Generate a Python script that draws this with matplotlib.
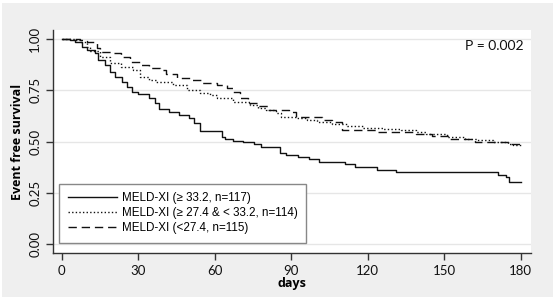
import matplotlib
matplotlib.use("Agg")
import matplotlib.pyplot as plt
from matplotlib.patches import Rectangle

# Kaplan-Meier steps (day, survival)
high_days = [0, 3, 5, 8, 10, 13, 14, 17, 19, 21, 23.5, 25.5, 27.5, 30, 34, 36.5, 38, 42, 46,
             50, 52, 54, 62.7, 64, 67, 71, 75.5, 78, 85.5, 88, 92.5, 97, 101, 111, 115, 123.5,
             131, 171, 174, 175.5, 180]
high_surv = [1.0, 0.995, 0.985, 0.96, 0.946, 0.93, 0.90, 0.873, 0.84, 0.815, 0.79, 0.766, 0.74,
             0.73, 0.71, 0.69, 0.66, 0.644, 0.63, 0.615, 0.59, 0.55, 0.52, 0.51, 0.502, 0.498,
             0.488, 0.474, 0.444, 0.434, 0.424, 0.415, 0.40, 0.39, 0.376, 0.36, 0.352, 0.338,
             0.325, 0.303, 0.303]

mid_days = [0, 5, 7, 10, 11, 15, 19, 23, 28, 30.6, 34, 37, 43.5, 49, 54, 58, 61, 67, 73.7, 77,
            80, 84, 86, 92, 96, 100, 106, 112, 118, 126, 133, 139, 143, 151, 158, 163, 169, 175,
            177, 180]
mid_surv = [1.0, 0.995, 0.985, 0.96, 0.94, 0.912, 0.883, 0.865, 0.85, 0.815, 0.80, 0.79, 0.776,
            0.75, 0.737, 0.725, 0.712, 0.693, 0.678, 0.665, 0.654, 0.64, 0.62, 0.615, 0.607,
            0.595, 0.585, 0.575, 0.566, 0.562, 0.555, 0.546, 0.535, 0.522, 0.51, 0.505, 0.498,
            0.49, 0.483, 0.483]

low_days = [0, 7, 10, 13.7, 15, 20, 23, 26.7, 30.6, 34, 38.4, 41, 45, 51, 55, 61, 64.7, 67, 70,
            73, 77, 81, 89, 92, 102, 106, 110, 123.5, 139, 145, 152, 162, 175, 180]
low_surv = [1.0, 0.995, 0.985, 0.956, 0.937, 0.93, 0.91, 0.89, 0.873, 0.86, 0.85, 0.83, 0.81,
            0.80, 0.785, 0.776, 0.76, 0.74, 0.712, 0.69, 0.675, 0.654, 0.645, 0.62, 0.605,
            0.595, 0.556, 0.546, 0.535, 0.525, 0.512, 0.50, 0.49, 0.485]

labels = ["MELD-XI (\u2265 33.2, n=117)",
          "MELD-XI (\u2265 27.4 & < 33.2, n=114)",
          "MELD-XI (<27.4, n=115)"]
x_ticks = [0, 30, 60, 90, 120, 150, 180]
y_ticks = [0.0, 0.25, 0.5, 0.75, 1.0]
y_ticklabels = ["0.00", "0.25", "0.50", "0.75", "1.00"]

fig = plt.figure(figsize=(5.6, 3.0), dpi=100, facecolor="white")
fig.patches.append(Rectangle((2 / 560, 3 / 300), 551 / 560, 294 / 300, transform=fig.transFigure,
                             facecolor="#efefef", edgecolor="none", zorder=-10))

ax = fig.add_axes([53 / 560, 47 / 300, 478 / 560, 223 / 300])
ax.set_facecolor("white")

ink = "#111111"
ax.step(high_days, high_surv, where="post", color=ink, lw=1.0, ls="-", label=labels[0])
ax.step(mid_days, mid_surv, where="post", color=ink, lw=1.0, ls=(0, (1, 1.6)), label=labels[1])
ax.step(low_days, low_surv, where="post", color=ink, lw=1.0, ls=(0, (6, 3.5)), label=labels[2])

ax.set_xlim(-3.5, 184)
ax.set_ylim(-0.044, 1.044)
ax.set_xticks(x_ticks)
ax.set_yticks(y_ticks)
ax.set_yticklabels(y_ticklabels, rotation=90, va="center")
ax.tick_params(axis="both", direction="out", length=5, width=1, color="#333333",
               labelsize=9.5, labelcolor="#111111")
for lab in ax.get_xticklabels() + ax.get_yticklabels():
    lab.set_family("Lato")
ax.grid(axis="y", color="#e6e6e6", lw=1)
ax.set_axisbelow(True)
for side in ["top", "right"]:
    ax.spines[side].set_visible(False)
for side in ["left", "bottom"]:
    ax.spines[side].set_color("#333333")
    ax.spines[side].set_linewidth(1)

ax.set_xlabel("days", fontsize=9, fontweight="bold", family="Open Sans", labelpad=0)
ax.set_ylabel("Event free survival", fontsize=9, fontweight="bold", family="Open Sans",
              labelpad=4)

ax.text(0.985, 0.955, "P = 0.002", transform=ax.transAxes, ha="right", va="top",
        fontsize=10, family="Lato", color="#111111")

leg = ax.legend(loc="lower left", bbox_to_anchor=(0.0125, 0.045),
                prop={"family": "Liberation Sans", "size": 8.4}, handlelength=4.2,
                labelspacing=0.25, handletextpad=0.42, borderpad=0.75, fancybox=False,
                framealpha=1, edgecolor="#888888", borderaxespad=0)
leg.get_frame().set_linewidth(1)

fig.savefig("out.png", dpi=100, facecolor=fig.get_facecolor())
